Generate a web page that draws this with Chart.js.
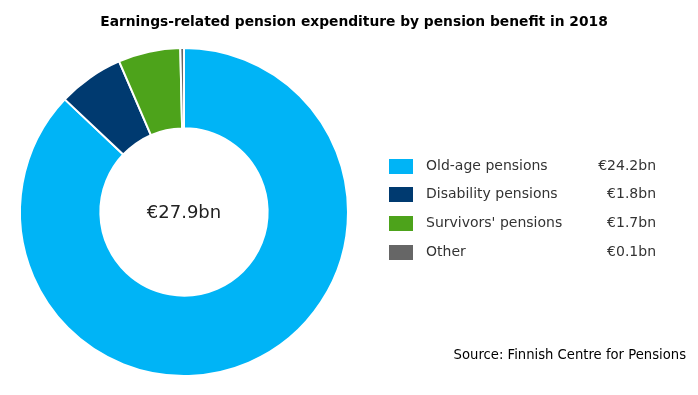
<!DOCTYPE html>
<html>
<head>
<meta charset="utf-8">
<script src="https://cdn.jsdelivr.net/npm/chart.js@4/dist/chart.umd.min.js"></script>
<style>
html,body{margin:0;padding:0;background:#fff;}
#wrap{position:relative;width:698px;height:395px;}
</style>
</head>
<body>
<div id="wrap"><canvas id="c" width="698" height="395"></canvas></div>
<script>
const titleText = 'Earnings-related pension expenditure by pension benefit in 2018';
const categories = ['Old-age pensions', 'Disability pensions', "Survivors' pensions", 'Other'];
const values = [24.2, 1.8, 1.7, 0.1];
const valueLabels = ['€24.2bn', '€1.8bn', '€1.7bn', '€0.1bn'];
const centerText = '€27.9bn';
const sourceText = 'Source: Finnish Centre for Pensions';
const colors = ['#00B4F6', '#003A70', '#4DA31B', '#666666'];

const FONT = '"DejaVu Sans", Verdana, sans-serif';

const textPlugin = {
  id: 'texts',
  afterDraw(chart) {
    const ctx = chart.ctx;
    ctx.save();
    // title
    ctx.fillStyle = '#000';
    ctx.font = 'bold 13.8px ' + FONT;
    ctx.textAlign = 'center';
    ctx.textBaseline = 'middle';
    ctx.fillText(titleText, 354, 22);
    // center text
    const meta = chart.getDatasetMeta(0);
    const arc = meta.data[0];
    ctx.fillStyle = '#222';
    ctx.font = '18px ' + FONT;
    ctx.fillText(centerText, arc.x, arc.y + 1);
    // legend
    const rowY = [166, 194, 223, 252];
    ctx.font = '14px ' + FONT;
    categories.forEach((cat, i) => {
      ctx.fillStyle = colors[i];
      ctx.fillRect(389, rowY[i] - 7, 24, 15);
      ctx.fillStyle = '#333';
      ctx.textAlign = 'left';
      ctx.fillText(cat, 426, rowY[i]);
      ctx.textAlign = 'right';
      ctx.fillText(valueLabels[i], 656, rowY[i]);
    });
    // source
    ctx.fillStyle = '#000';
    ctx.font = '13.2px ' + FONT;
    ctx.textAlign = 'right';
    ctx.fillText(sourceText, 686, 356);
    ctx.restore();
  }
};

new Chart(document.getElementById('c'), {
  type: 'doughnut',
  data: {
    labels: categories,
    datasets: [{
      data: values,
      backgroundColor: colors,
      borderColor: '#fff',
      borderWidth: 2
    }]
  },
  options: {
    responsive: false,
    animation: false,
    cutout: '51%',
    layout: { padding: { left: 19, right: 349, top: 47, bottom: 18 } },
    plugins: {
      legend: { display: false },
      tooltip: { enabled: false },
      title: { display: false }
    }
  },
  plugins: [textPlugin]
});
</script>
</body>
</html>
